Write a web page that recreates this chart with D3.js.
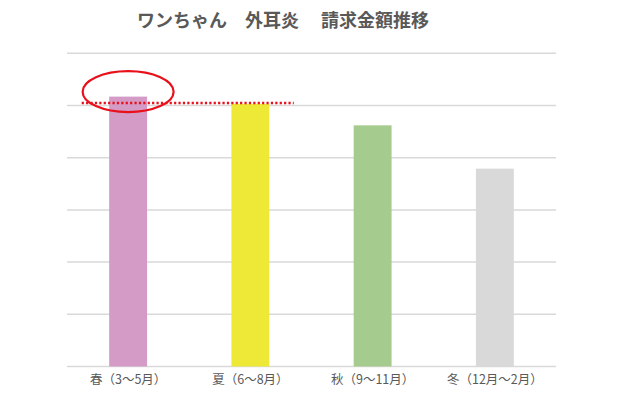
<!DOCTYPE html>
<html><head><meta charset="utf-8">
<script src="https://cdn.jsdelivr.net/npm/d3@7"></script>
<style>
html,body{margin:0;padding:0;background:#fff;}
svg{display:block;}
</style></head>
<body>
<svg id="chart" width="620" height="400"></svg>
<script>
const title = "ワンちゃん　外耳炎　 請求金額推移";
const categories = ["春（3〜5月）", "夏（6〜8月）", "秋（9〜11月）", "冬（12月〜2月）"];
const values = [5.17, 5.03, 4.62, 3.79];
const colors = ["#D39BC6", "#EEE836", "#A5CB8E", "#D9D9D9"];
const yTicks = [0, 1, 2, 3, 4, 5, 6];

const svg = d3.select("#chart");
const font = "'Noto Sans CJK JP', 'Noto Sans', sans-serif";
const margin = {left: 67, right: 64, top: 53.3, bottom: 33.5};
const W = 620, H = 400;

const x = d3.scaleBand().domain(categories)
  .range([margin.left, W - margin.right])
  .paddingInner(0.69).paddingOuter(0.345);
const y = d3.scaleLinear().domain([0, 6]).range([H - margin.bottom, margin.top]);

// gridlines
svg.append("g").selectAll("line").data(yTicks).join("line")
  .attr("x1", margin.left).attr("x2", W - margin.right)
  .attr("y1", d => y(d)).attr("y2", d => y(d))
  .attr("stroke", "#D9D9D9").attr("stroke-width", 1.5);

// bars
svg.append("g").selectAll("rect").data(values).join("rect")
  .attr("x", (d, i) => x(categories[i]))
  .attr("width", x.bandwidth())
  .attr("y", d => y(d))
  .attr("height", d => y(0) - y(d))
  .attr("fill", (d, i) => colors[i]);

// x axis labels
const xAxis = d3.axisBottom(x).tickSize(0).tickPadding(9);
const gx = svg.append("g").attr("transform", `translate(0,${y(0)})`).call(xAxis);
gx.select(".domain").remove();
gx.selectAll("text").attr("font-family", font).attr("font-size", 12.5)
  .attr("fill", "#595959");

// title
svg.append("text").attr("x", 137).attr("y", 27)
  .attr("font-family", font).attr("font-size", 18).attr("font-weight", "bold")
  .attr("fill", "#595959").attr("xml:space", "preserve").style("white-space", "pre")
  .text(title);

// annotation: dotted line at level of second bar
const xs = x.step();
svg.append("line")
  .attr("x1", x(categories[0]) - 0.225 * xs)
  .attr("x2", x(categories[1]) + x.bandwidth() + 0.2 * xs)
  .attr("y1", y(values[1]) - 1).attr("y2", y(values[1]) - 1)
  .attr("stroke", "#E8101A").attr("stroke-width", 2.5)
  .attr("stroke-dasharray", "2.2,2.2");

// annotation: ellipse around top of first bar
svg.append("ellipse")
  .attr("cx", x(categories[0]) + x.bandwidth() / 2)
  .attr("cy", y(values[0]) - 5)
  .attr("rx", 45.5).attr("ry", 20.5)
  .attr("fill", "none").attr("stroke", "#E8101A").attr("stroke-width", 2.2);
</script>
</body></html>
